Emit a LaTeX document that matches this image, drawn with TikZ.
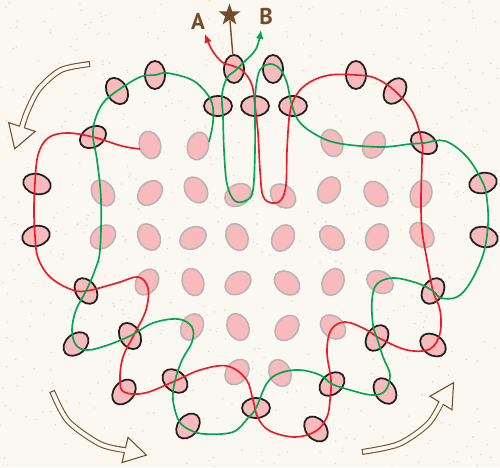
\documentclass[tikz,border=0pt]{standalone}
\usepackage{fontspec}
\newfontfamily\labelfont{PT Sans}
\usetikzlibrary{shapes.geometric, arrows.meta}

\definecolor{paper}{RGB}{250,248,240}
\definecolor{speck}{RGB}{222,216,202}
\definecolor{beadpink}{RGB}{247,187,189}
\definecolor{ink}{RGB}{35,30,30}
\definecolor{ghostgray}{RGB}{184,179,180}
\definecolor{ropered}{RGB}{237,28,36}
\definecolor{ropegreen}{RGB}{0,166,81}
\definecolor{umber}{RGB}{115,75,40}

\begin{document}
\begin{tikzpicture}[x=0.02cm, y=-0.02cm,
	bead/.style ={ellipse, draw=ink, fill=beadpink, line width=1pt, minimum width=0.56cm, minimum height=0.40cm, inner sep=0pt},
	ghost/.style ={ellipse, draw=ghostgray, fill=beadpink, line width=0.85pt, minimum width=0.56cm, minimum height=0.42cm, inner sep=0pt},
	rope/.style ={line width=0.95pt, -{Latex[length=5pt, width=4.4pt]}},
	turnout/.style ={draw=umber, line width=3.4pt},
	turnin/.style ={draw=paper, line width=2.2pt},
	turnhead/.style ={fill=paper, draw=umber, line width=0.6pt, line join=miter}]
	\useasboundingbox (0,0) rectangle (500,467);
	\fill[paper] (0,0) rectangle (500,467);
	\pgfmathsetseed{11}
	\foreach \i in {1,...,700}
		\fill[speck] ({rnd*500},{rnd*467}) circle (0.7);

	% grid of pegs
	\foreach \x/\y/\a [count=\i] in {150/145/107, 198/146/75, 332/143/110, 374/145/60,
		103/193/125, 150/193/45, 196/190/125, 238/195/30, 283/196/140, 329/190/60, 376/194/130, 421/194/70,
		103/237/40, 149/237/120, 193/238/30, 237/237/115, 283/238/60, 332/238/135, 377/237/60, 422/235/130,
		147/282/55, 193/282/110, 238/283/35, 287/283/140, 333/282/65, 380/282/150,
		192/327/60, 238/327/115, 287/328/50, 333/327/140,
		237/372/50, 280/373/115}
		\node[ghost, rotate=\a] (g\i) at (\x,\y) {};

	% beads on the ropes
	\foreach \n/\x/\y/\a in {bt1/234/69/90, bt2/273/69/90, bm1/218/106/0, bm2/255/106/0, bm3/293/106/0,
		bl1/155/75/90, bl2/117/91/-60, bl3/93/137/30, bl4/37/184/-15, bl5/36/236/15, bl6/86/291/-55,
		bl7/76/344/40, bl8/130/336/-60, bl9/124/392/50, bl10/175/381/-40, bl11/188/426/50,
		bb/256/408/0,
		br1/356/75/90, br2/395/91/55, br3/424/143/-30, br4/483/183/15, br5/484/237/-15, br6/433/291/55,
		br7/433/345/-35, br8/377/338/55, br9/385/391/-55, br10/332/384/40, br11/316/429/-50}
		\node[bead, rotate=\a] (\n) at (\x,\y) {};

	\coordinate (redend) at (140,149);
	\coordinate (greenend) at (209,142);
	\coordinate (tipA) at (205,34);
	\coordinate (tipB) at (261,30);

	\node[star, star points=5, star point ratio=2.5, fill=umber, minimum size=0.46cm, inner sep=0pt] (top) at (229.5,15) {};
	\draw[umber, line width=0.8pt] (top) -- (bt1);
	\node[text=umber, font=\labelfont\bfseries\fontsize{13}{15}\selectfont] (labA) at (198,21) {A};
	\node[text=umber, font=\labelfont\bfseries\fontsize{13}{15}\selectfont] (labB) at (266,17) {B};

	% red rope
	\draw[rope, draw=ropered] plot[smooth, tension=0.6] coordinates {(redend) (122,146) (bl3.center) (67,133) (48,138) (38,155)
		(35,183) (34,210) (35,236) (38,258) (50,277) (70,289) (bl6.center) (117,283) (138,277) (148,288) (146,310) (135,333)
		(123,357) (120,380) (bl9.center) (145,393) (bl10.center) (200,370) (227,366) (246,379) (253,400) (258,418) (270,431)
		(295,437) (316,431) (327,417) (330,400) (331,380) (327,352) (331,330) (345,322) (365,329) (381,339) (407,350) (430,349)
		(440,333) (440,310) (br6.center) (427,260) (422,230) (421,200) (422,160) (422,143) (413,113) (br2.center) (375,78)
		(br1.center) (330,75) (310,82) (297,94) (290,112) (287,150) (286,185) (281,200) (272,203) (263,196) (260,170) (258,133)
		(bm2.center) (252,85) (243,71) (233,66) (222,62) (212,50) (tipA)};

	% green rope
	\draw[rope, draw=ropegreen] plot[smooth, tension=0.6] coordinates {(greenend) (213,122) (212,103) (203,89) (190,79) (167,73)
		(bl1.center) (140,77) (bl2.center) (103,103) (95,120) (bl3.center) (97,160) (101,200) (100,250) (95,270) (bl6.center)
		(76,310) (72,330) (76,345) (87,350) (105,346) (bl8.center) (153,323) (178,319) (192,327) (192,342) (182,360)
		(bl10.center) (173,400) (179,421) (190,430) (205,434) (233,432) (248,418) (bb.center) (267,383) (280,373) (300,370)
		(320,375) (br10.center) (350,390) (372,395) (br9.center) (390,375) (383,357) (br8.center) (373,325) (372,300) (377,284)
		(393,278) (417,283) (br6.center) (441,298) (457,297) (470,283) (483,255) (488,225) (487,200) (br4.center) (467,157)
		(445,141) (br3.center) (410,144) (380,147) (337,143) (313,133) (298,120) (291,102) (287,83) (280,69) (270,64) (260,70)
		(256,87) (bm2.center) (255,150) (253,190) (247,200) (235,201) (227,184) (224,150) (223,117) (222,95) (227,78) (236,70)
		(243,63) (256,49) (tipB)};

	% turning arrows
	\draw[turnout] plot[smooth] coordinates {(90,64) (61,70) (39,89) (27,112) (22,127)};
	\filldraw[turnhead] (8.7,122.6) -- (14.7,148.8) -- (35.3,131.4) -- cycle;
	\draw[turnin] plot[smooth] coordinates {(89,64.2) (61,70) (39,89) (27,112) (21.3,129)};

	\draw[turnout] plot[smooth] coordinates {(52,391) (68,421) (100,444) (125,450)};
	\filldraw[turnhead] (128,437.4) -- (146.4,455.1) -- (122,462.6) -- cycle;
	\draw[turnin] plot[smooth] coordinates {(52.5,392) (68,421) (100,444) (127,450.5)};

	\draw[turnout] plot[smooth] coordinates {(362,452) (399,444) (428,424) (441,403)};
	\filldraw[turnhead] (430,396.2) -- (453.6,382.6) -- (452,409.8) -- cycle;
	\draw[turnin] plot[smooth] coordinates {(363,451.8) (399,444) (428,424) (442,401.3)};
\end{tikzpicture}
\end{document}
